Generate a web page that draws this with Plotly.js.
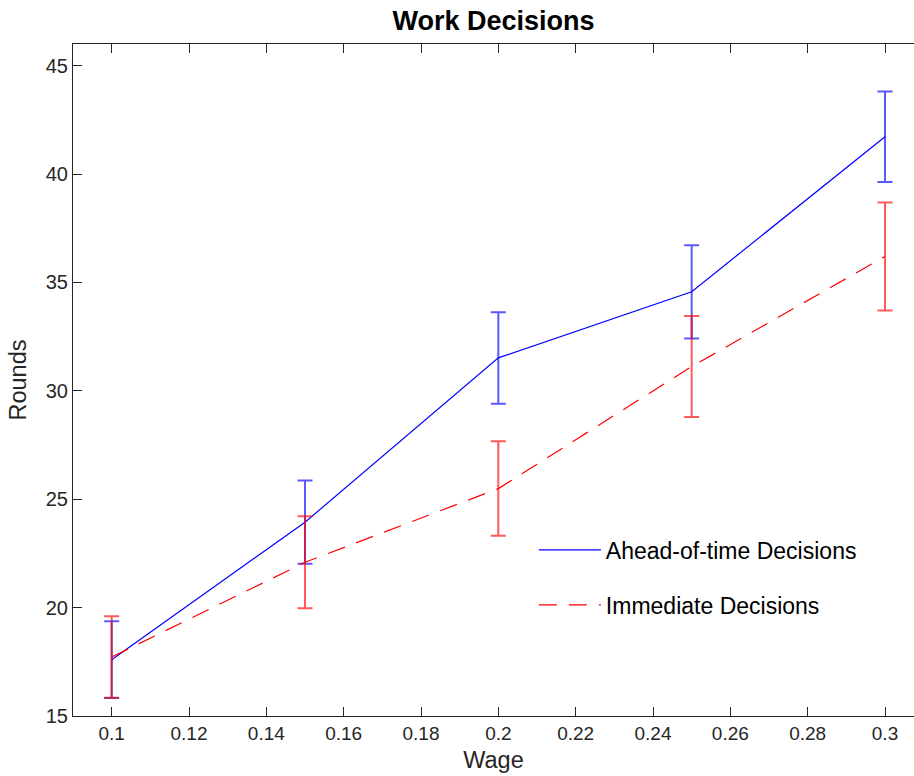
<!DOCTYPE html>
<html>
<head>
<meta charset="utf-8">
<script src="https://cdn.plot.ly/plotly-3.0.1.min.js"></script>
<style>html,body{margin:0;padding:0;overflow:hidden;background:#fff;}</style>
</head>
<body>
<div id="chart" style="width:914px;height:776px;"></div>
<script>
const wage = [0.1, 0.15, 0.2, 0.25, 0.3];
const aheadMean = [17.6, 23.94, 31.52, 34.57, 41.72];
const aheadErr = [1.77, 1.92, 2.11, 2.15, 2.09];
const immediateMean = [17.72, 22.09, 25.49, 31.12, 36.2];
const immediateErr = [1.88, 2.12, 2.18, 2.33, 2.49];
const seriesNames = ["Ahead-of-time Decisions", "Immediate Decisions"];
const xTickVals = [0.1, 0.12, 0.14, 0.16, 0.18, 0.2, 0.22, 0.24, 0.26, 0.28, 0.3];
const xTickText = ["0.1","0.12","0.14","0.16","0.18","0.2","0.22","0.24","0.26","0.28","0.3"];
const yTickVals = [15, 20, 25, 30, 35, 40, 45];

const font = "Liberation Sans, Arial, sans-serif";

const traces = [
  {
    x: wage, y: aheadMean, type: "scatter", mode: "lines",
    name: seriesNames[0], legendgroup: "a",
    line: {color: "rgb(0,0,255)", width: 1.2},
    error_y: {type: "data", array: aheadErr, visible: true, color: "rgba(0,0,255,0.65)", thickness: 2, width: 7.5}
  },
  {
    x: wage, y: immediateMean, type: "scatter", mode: "lines",
    name: seriesNames[1], legendgroup: "b",
    line: {color: "rgb(255,0,0)", width: 1.2, dash: "18px,12px"},
    error_y: {type: "data", array: immediateErr, visible: true, color: "rgba(255,0,0,0.65)", thickness: 2, width: 7.5}
  }
];

const layout = {
  width: 914, height: 776,
  margin: {l: 73, r: 0, t: 44, b: 60},
  paper_bgcolor: "#fff", plot_bgcolor: "#fff",
  font: {family: font, color: "#262626", size: 19},
  title: {text: "<b>Work Decisions</b>", font: {family: font, size: 27, color: "#000"}, xref: "paper", x: 0.5, xanchor: "center", y: 0.974, yanchor: "middle"},
  xaxis: {
    range: [0.09, 0.3075], tickvals: xTickVals, ticktext: xTickText,
    ticks: "inside", ticklen: 9, tickcolor: "#262626", tickwidth: 1,
    showline: true, linecolor: "#262626", linewidth: 1, mirror: "ticks",
    showgrid: false, zeroline: false,
    tickfont: {size: 19, color: "#262626"},
    title: {text: "Wage", font: {size: 23.5, color: "#262626"}, standoff: 8}
  },
  yaxis: {
    range: [15, 46], tickvals: yTickVals,
    ticks: "inside", ticklen: 9, tickcolor: "#262626", tickwidth: 1,
    showline: true, linecolor: "#262626", linewidth: 1, mirror: false,
    showgrid: false, zeroline: false,
    tickfont: {size: 20, color: "#262626"},
    title: {text: "Rounds", font: {size: 23.5, color: "#262626"}, standoff: 12}
  },
  showlegend: true,
  legend: {
    x: 0.548, y: 0.279, xanchor: "left", yanchor: "top",
    bgcolor: "rgba(0,0,0,0)", borderwidth: 0,
    font: {size: 23, color: "#000", family: font},
    traceorder: "grouped", tracegroupgap: 22, itemwidth: 62
  }
};

Plotly.newPlot("chart", traces, layout, {displayModeBar: false, staticPlot: true});
</script>
</body>
</html>
